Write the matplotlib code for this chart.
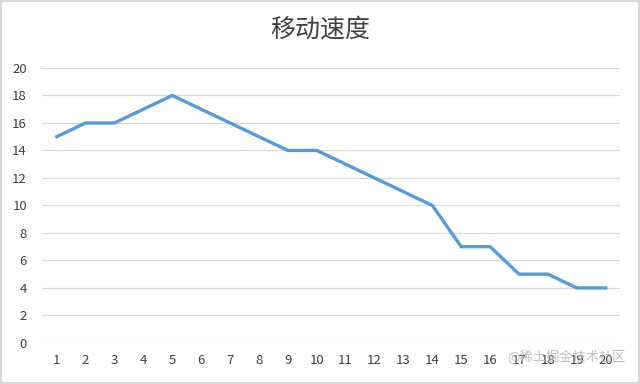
import numpy as np
import matplotlib.pyplot as plt

plt.rcParams['font.family'] = ['Noto Sans CJK SC', 'DejaVu Sans']

# data
x_labels = [str(i) for i in range(1, 21)]
speed = [15, 16, 16, 17, 18, 17, 16, 15, 14, 14, 13, 12, 11, 10, 7, 7, 5, 5, 4, 4]
title = '移动速度'
watermark = '@稀土掘金技术社区'

fig = plt.figure(figsize=(6.4, 3.84), dpi=100)
fig.patch.set_edgecolor('#d9d9d9')
fig.patch.set_linewidth(1.5)
ax = fig.add_axes([0.066, 0.107, 0.903, 0.716])

x = np.arange(len(speed))
ax.plot(x, speed, color='#5B9BD5', linewidth=2.4, solid_joinstyle='miter')

ax.set_xlim(-0.5, len(speed) - 0.5)
ax.set_ylim(0, 20)
ax.set_yticks(range(0, 21, 2))
ax.set_xticks(x)
ax.set_xticklabels(x_labels)
ax.tick_params(axis='both', length=0, labelsize=9.5, labelcolor='#404040')
ax.tick_params(axis='x', pad=8)
ax.tick_params(axis='y', pad=11)
ax.grid(axis='y', color='#d9d9d9', linewidth=0.9)
ax.set_axisbelow(True)
for s in ax.spines.values():
    s.set_visible(False)

fig.text(0.5, 0.922, title, ha='center', va='center', fontsize=18, color='#404040')
fig.text(0.977, 0.07, watermark, ha='right', va='center', fontsize=9.5,
         color='#b0b0b0', alpha=0.8)

fig.savefig('out.png', dpi=100)
